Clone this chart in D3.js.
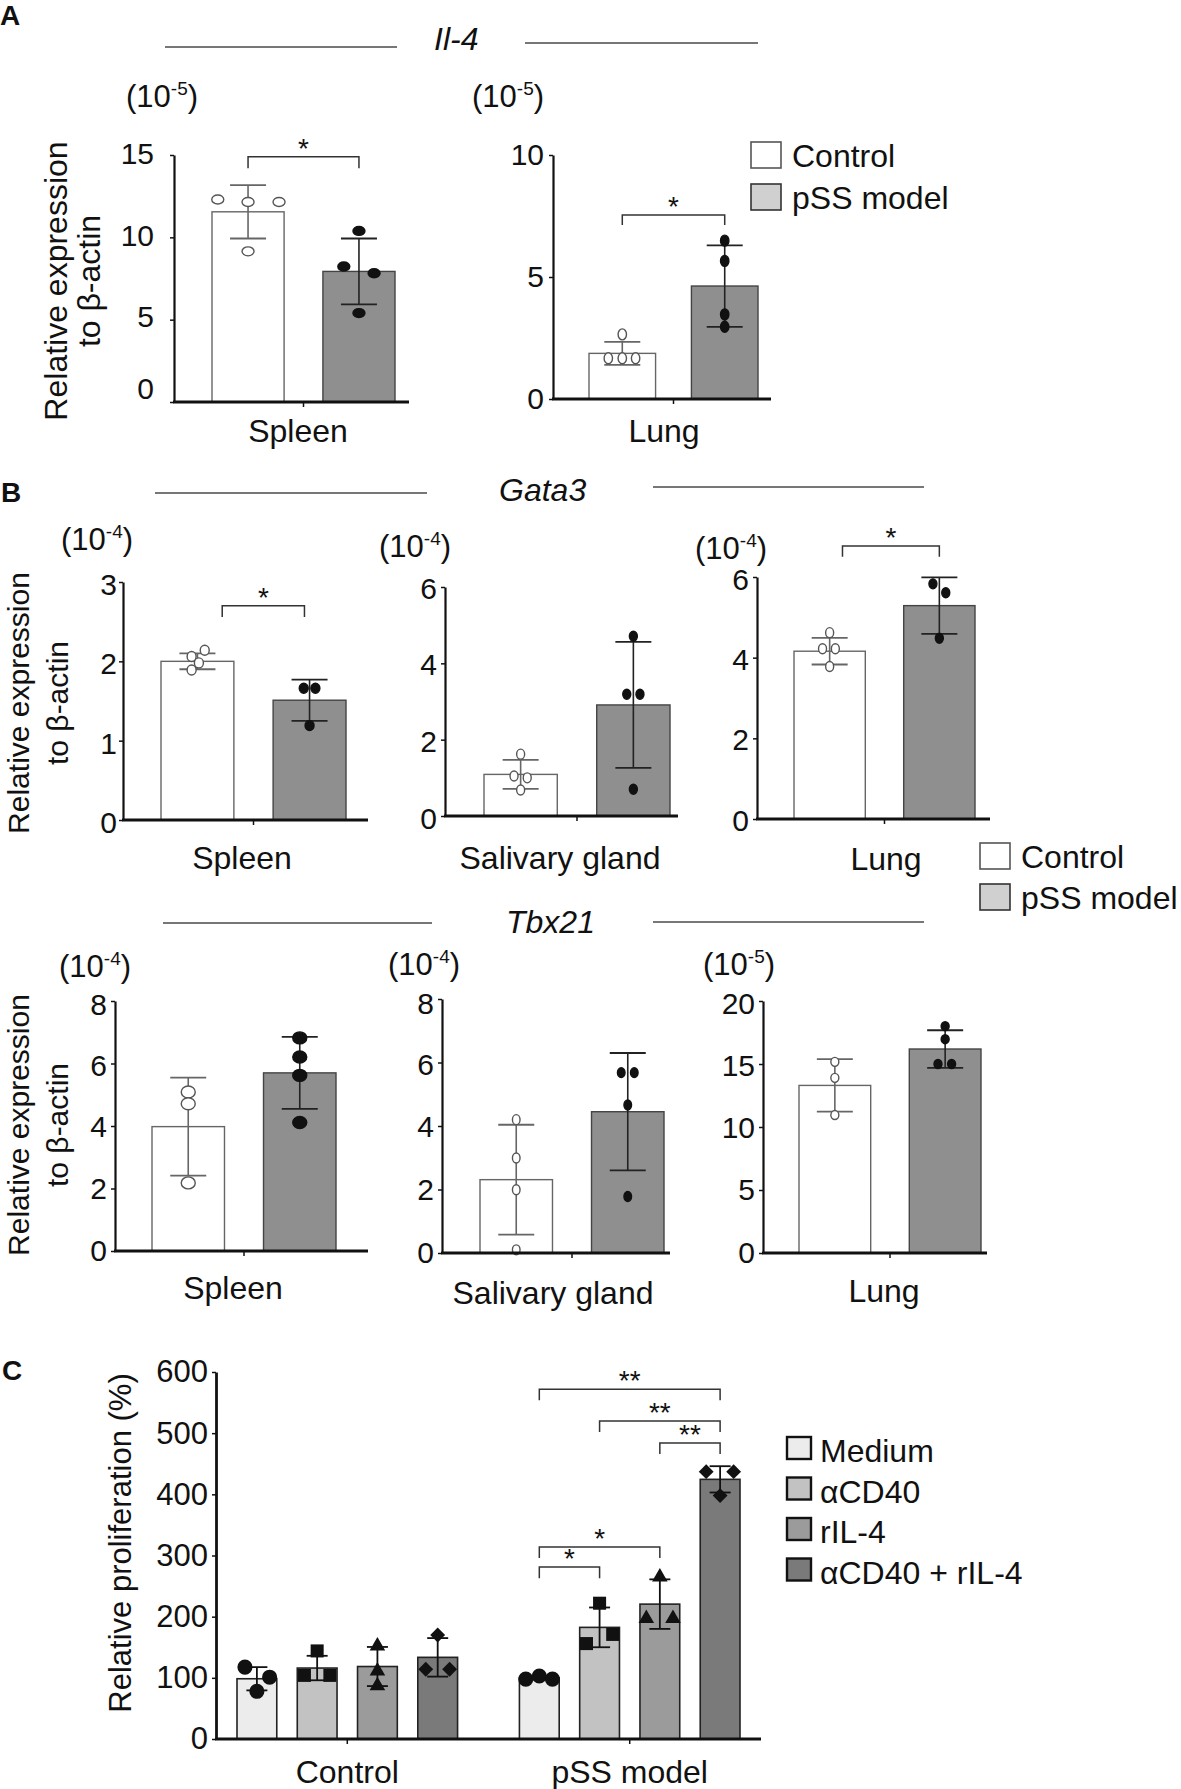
<!DOCTYPE html>
<html>
<head>
<meta charset="utf-8">
<script src="https://cdn.jsdelivr.net/npm/d3@7"></script>
<style>
  body { margin: 0; background: #fff; }
  svg text { font-family: "Liberation Sans", Arial, Helvetica, sans-serif; fill: #111; }
</style>
</head>
<body>
<div id="chart"></div>
<script>
// ---- data ----
const exprGroups = ['Control', 'pSS model'];

// A: Il-4
const il4SpleenMean = [11.55, 7.93];
const il4SpleenSD = [1.62, 2.0];
const il4SpleenPts = [[12.3, 12.15, 12.15, 9.15], [10.39, 8.23, 7.82, 5.4]];
const il4LungMean = [1.87, 4.63];
const il4LungSD = [0.47, 1.67];
const il4LungPts = [[2.65, 1.67, 1.67, 1.67], [6.49, 5.66, 3.47, 2.96]];

// B: Gata3
const gata3SpleenMean = [2.0, 1.51];
const gata3SpleenSD = [0.1, 0.26];
const gata3SpleenPts = [[2.14, 2.06, 1.98, 1.89], [1.66, 1.66, 1.19]];
const gata3SalivMean = [1.09, 2.91];
const gata3SalivSD = [0.38, 1.65];
const gata3SalivPts = [[1.62, 1.05, 1.0, 0.68], [4.71, 3.19, 3.19, 0.70]];
const gata3LungMean = [4.16, 5.29];
const gata3LungSD = [0.33, 0.70];
const gata3LungPts = [[4.62, 4.22, 4.22, 3.78], [5.83, 5.61, 4.48]];

// B: Tbx21
const tbx21SpleenMean = [3.98, 5.70];
const tbx21SpleenSD = [1.57, 1.15];
const tbx21SpleenPts = [[5.09, 4.71, 2.18], [6.82, 6.21, 5.62, 4.11]];
const tbx21SalivMean = [2.31, 4.45];
const tbx21SalivSD = [1.73, 1.85];
const tbx21SalivPts = [[4.2, 2.99, 1.99, 0.1], [5.68, 5.68, 4.66, 1.78]];
const tbx21LungMean = [13.3, 16.19];
const tbx21LungSD = [2.08, 1.49];
const tbx21LungPts = [[15.17, 13.9, 10.95], [18.0, 16.97, 15.0, 15.0]];

// C: proliferation
const prolifGroups = ['Control', 'pSS model'];
const treatments = ['Medium', 'αCD40', 'rIL-4', 'αCD40 + rIL-4'];
const prolifMean = [[98.5, 116, 118.5, 133.5], [100, 182.5, 220.5, 424.5]];
const prolifSD = [[19, 20, 32, 31.5], [3, 32.5, 40.5, 21.5]];
const prolifPts = [
  [[117.6, 101, 78], [144, 104, 104], [152, 111, 87], [170, 114, 114]],
  [[98, 103, 98], [222, 171, 156], [265, 197, 197], [437, 437, 398]]
];
// [from, to, bracket level, stars]
const prolifBrackets = [
  [0, 3, 572, '**'], [1, 3, 520, '**'], [2, 3, 484, '**'],
  [0, 2, 314, '*'], [0, 1, 281, '*']
];

// ---- layout ----
const W = 1181, H = 1789;
const svg = d3.select('#chart').append('svg')
  .attr('width', W).attr('height', H)
  .attr('viewBox', `0 0 ${W} ${H}`);

// jit: dot spread inside a bar, as fraction of bar width
// shift: vertical nudge of each tick label (same order as ticks)
const exprPanels = [
  { mean: il4SpleenMean, sd: il4SpleenSD, pts: il4SpleenPts,
    jit: [[-0.42, 0, 0.43, 0], [0, -0.21, 0.21, 0]],
    axisX: 174, axisEnd: 409, yTop: 155, yBot: 402, max: 15, ticks: [0, 5, 10, 15],
    barL: 212, barR: 395, tickGap: 16, shift: [-13, -3, -1, -1], exp: '-5', expX: 126, expY: 107,
    label: 'Spleen', labelX: 298, labelY: 442, dot: [6, 4.5],
    bracket: { level: 14.9, end: 14.2, inset: [0, 0] } },
  { mean: il4LungMean, sd: il4LungSD, pts: il4LungPts,
    jit: [[0, -0.21, 0, 0.2], [0, 0, 0, 0]],
    axisX: 553, axisEnd: 771, yTop: 155, yBot: 399, max: 10, ticks: [0, 5, 10],
    barL: 589, barR: 758, tickGap: 5, exp: '-5', expX: 472, expY: 107,
    label: 'Lung', labelX: 664, labelY: 442, dot: [4.2, 5.5],
    bracket: { level: 7.54, end: 7.13, inset: [0, 0] } },
  { mean: gata3SpleenMean, sd: gata3SpleenSD, pts: gata3SpleenPts,
    jit: [[0.1, -0.08, 0.02, -0.08], [-0.08, 0.08, 0]],
    axisX: 123, axisEnd: 368, yTop: 582, yBot: 820, max: 3, ticks: [0, 1, 2, 3],
    barL: 161, barR: 346, tickGap: 2, shift: [3, 3, 3, 3], exp: '-4', expX: 61, expY: 550,
    label: 'Spleen', labelX: 242, labelY: 869, dot: [4.5, 5],
    bracket: { level: 2.70, end: 2.56, inset: [0.34, -0.07] } },
  { mean: gata3SalivMean, sd: gata3SalivSD, pts: gata3SalivPts,
    jit: [[0, -0.09, 0.09, 0], [0, -0.09, 0.09, 0]],
    axisX: 445, axisEnd: 678, yTop: 587, yBot: 816, max: 6, ticks: [0, 2, 4, 6],
    barL: 484, barR: 670, tickGap: 4, shift: [3, 2, 2, 2], exp: '-4', expX: 379, expY: 557,
    label: 'Salivary gland', labelX: 560, labelY: 869, dot: [4, 5] },
  { mean: gata3LungMean, sd: gata3LungSD, pts: gata3LungPts,
    jit: [[0, -0.1, 0.08, 0], [-0.09, 0.09, 0]],
    axisX: 757, axisEnd: 990, yTop: 577, yBot: 819, max: 6, ticks: [0, 2, 4, 6],
    barL: 794, barR: 975, tickGap: 4, shift: [2, 2, 2, 3], exp: '-4', expX: 695, expY: 559,
    label: 'Lung', labelX: 886, labelY: 870, dot: [4, 5],
    bracket: { level: 6.77, end: 6.50, inset: [0.18, 0] } },
  { mean: tbx21SpleenMean, sd: tbx21SpleenSD, pts: tbx21SpleenPts,
    jit: [[0, 0, 0], [0, 0, 0, 0]],
    axisX: 115, axisEnd: 368, yTop: 1001, yBot: 1251, max: 8, ticks: [0, 2, 4, 6, 8],
    barL: 152, barR: 336, tickGap: 4, shift: [0, 0, 1, 2, 4], exp: '-4', expX: 59, expY: 977,
    label: 'Spleen', labelX: 233, labelY: 1299, dot: [7, 6] },
  { mean: tbx21SalivMean, sd: tbx21SalivSD, pts: tbx21SalivPts,
    jit: [[0, 0, 0, 0], [-0.09, 0.09, 0, 0]],
    axisX: 442, axisEnd: 670, yTop: 999, yBot: 1253, max: 8, ticks: [0, 2, 4, 6, 8],
    barL: 480, barR: 664, tickGap: 4, shift: [0, 0, 1, 2, 5], exp: '-4', expX: 388, expY: 975,
    label: 'Salivary gland', labelX: 553, labelY: 1304, dot: [3.8, 5] },
  { mean: tbx21LungMean, sd: tbx21LungSD, pts: tbx21LungPts,
    jit: [[0, 0, 0], [0, 0, -0.1, 0.09]],
    axisX: 763, axisEnd: 987, yTop: 1001, yBot: 1253, max: 20, ticks: [0, 5, 10, 15, 20],
    barL: 799, barR: 981, tickGap: 4, shift: [0, 0, 1, 2, 3], exp: '-5', expX: 703, expY: 975,
    label: 'Lung', labelX: 884, labelY: 1302, dot: [4, 4.5] }
];

function supLabel(g, x, y, exp) {
  const t = g.append('text').attr('x', x).attr('y', y).attr('font-size', 31);
  t.append('tspan').text('(10');
  t.append('tspan').attr('font-size', 19).attr('dy', -12).text(exp);
  t.append('tspan').attr('dy', 12).text(')');
}

function bracket(g, x1, x2, yLine, yEnd, stars, starSize) {
  g.append('path')
    .attr('d', `M${x1},${yEnd}V${yLine}H${x2}V${yEnd}`)
    .attr('fill', 'none').attr('stroke', '#333').attr('stroke-width', 1.5);
  g.append('text')
    .attr('x', (x1 + x2) / 2).attr('y', yLine + 1)
    .attr('text-anchor', 'middle').attr('font-size', starSize)
    .text(stars);
}

function exprPanel(p) {
  const g = svg.append('g');
  const y = d3.scaleLinear().domain([0, p.max]).range([p.yBot, p.yTop]);
  const pi = 0.35;
  const step = (p.barR - p.barL) / (2 - pi);
  const x = d3.scaleBand().domain(exprGroups)
    .range([p.barL - step * pi / 2, p.barR + step * pi / 2])
    .paddingInner(pi).paddingOuter(pi / 2);
  const bw = x.bandwidth();

  // bars
  g.selectAll('rect.bar').data(exprGroups).join('rect')
    .attr('class', 'bar')
    .attr('x', d => x(d))
    .attr('y', (d, i) => y(p.mean[i]))
    .attr('width', bw)
    .attr('height', (d, i) => y(0) - y(p.mean[i]))
    .attr('fill', (d, i) => i ? '#8f8f8f' : '#fff')
    .attr('stroke', (d, i) => i ? '#444' : '#666')
    .attr('stroke-width', 1.4);

  // error bars
  exprGroups.forEach((grp, i) => {
    const cx = x(grp) + bw / 2;
    const col = i ? '#222' : '#666';
    const lo = y(p.mean[i] - p.sd[i]), hi = y(p.mean[i] + p.sd[i]);
    g.append('line').attr('x1', cx).attr('x2', cx).attr('y1', lo).attr('y2', hi)
      .attr('stroke', col).attr('stroke-width', 1.6);
    [lo, hi].forEach(v => g.append('line')
      .attr('x1', cx - 18).attr('x2', cx + 18).attr('y1', v).attr('y2', v)
      .attr('stroke', col).attr('stroke-width', 1.8));
  });

  // points
  exprGroups.forEach((grp, i) => {
    const cx = x(grp) + bw / 2;
    g.selectAll(null).data(p.pts[i]).join('ellipse')
      .attr('cx', (d, j) => cx + p.jit[i][j] * bw)
      .attr('cy', d => y(d))
      .attr('rx', p.dot[0]).attr('ry', p.dot[1])
      .attr('fill', i ? '#111' : '#fff')
      .attr('stroke', i ? '#111' : '#555')
      .attr('stroke-width', 1.4);
  });

  // y axis
  const ax = g.append('g').attr('transform', `translate(${p.axisX},0)`)
    .call(d3.axisLeft(y).tickValues(p.ticks).tickSize(4).tickSizeOuter(0)
      .tickPadding(p.tickGap).tickFormat(d3.format('d')));
  ax.select('.domain').attr('stroke', '#111').attr('stroke-width', 2.2);
  ax.selectAll('.tick line').attr('stroke', '#111').attr('stroke-width', 1.5);
  ax.selectAll('.tick text').attr('font-size', 30).attr('fill', '#111')
    .attr('font-family', '"Liberation Sans", Arial, sans-serif')
    .attr('transform', (d, i) => `translate(0,${p.shift ? p.shift[i] : 0})`);

  // x axis line + centre tick
  g.append('line').attr('x1', p.axisX - 1).attr('x2', p.axisEnd)
    .attr('y1', y(0)).attr('y2', y(0)).attr('stroke', '#111').attr('stroke-width', 2.8);
  const midX = (x(exprGroups[0]) + bw + x(exprGroups[1])) / 2;
  g.append('line').attr('x1', midX).attr('x2', midX)
    .attr('y1', y(0)).attr('y2', y(0) + 5).attr('stroke', '#111').attr('stroke-width', 1.5);

  supLabel(g, p.expX, p.expY, p.exp);
  g.append('text').attr('x', p.labelX).attr('y', p.labelY)
    .attr('text-anchor', 'middle').attr('font-size', 32).text(p.label);

  if (p.bracket) {
    const b = p.bracket;
    const x1 = x(exprGroups[0]) + bw / 2 + b.inset[0] * bw;
    const x2 = x(exprGroups[1]) + bw / 2 + b.inset[1] * bw;
    bracket(g, x1, x2, y(b.level), y(b.end), '*', 28);
  }
}

exprPanels.forEach(exprPanel);

// ---- titles, headers, y labels ----
function panelLetter(t, x, yb) {
  svg.append('text').attr('x', x).attr('y', yb).attr('font-size', 28)
    .attr('font-weight', 'bold').text(t);
}
panelLetter('A', 0, 25);
panelLetter('B', 1, 502);
panelLetter('C', 2, 1380);

function header(name, l1, l2, ly1, ly2, tx, ty) {
  svg.append('line').attr('x1', l1[0]).attr('x2', l1[1]).attr('y1', ly1).attr('y2', ly1)
    .attr('stroke', '#777').attr('stroke-width', 2);
  svg.append('line').attr('x1', l2[0]).attr('x2', l2[1]).attr('y1', ly2).attr('y2', ly2)
    .attr('stroke', '#777').attr('stroke-width', 2);
  svg.append('text').attr('x', tx).attr('y', ty).attr('font-size', 32)
    .attr('font-style', 'italic').text(name);
}
header('Il-4', [165, 397], [525, 758], 47, 43, 434, 50);
header('Gata3', [155, 427], [653, 924], 493, 487, 499, 501);
header('Tbx21', [163, 432], [653, 924], 923, 922, 506, 933);

// baselines of each rotated line
function yTitle(lines, xs, cy, size) {
  lines.forEach((s, i) => {
    svg.append('text')
      .attr('transform', `translate(${xs[i]},${cy}) rotate(-90)`)
      .attr('text-anchor', 'middle').attr('font-size', size).text(s);
  });
}
yTitle(['Relative expression', 'to β-actin'], [67, 100], 281, 32);
yTitle(['Relative expression', 'to β-actin'], [29, 68], 703, 30);
yTitle(['Relative expression', 'to β-actin'], [29, 68], 1125, 30);
yTitle(['Relative proliferation (%)'], [131], 1543, 31);

// ---- legends A / B ----
function exprLegend(x0, yTop, gapY) {
  exprGroups.forEach((name, i) => {
    const yy = yTop + i * gapY;
    svg.append('rect').attr('x', x0).attr('y', yy).attr('width', 30).attr('height', 26)
      .attr('fill', i ? '#d0d0d0' : '#fff').attr('stroke', i ? '#333' : '#555')
      .attr('stroke-width', 1.6);
    svg.append('text').attr('x', x0 + 41).attr('y', yy + 25)
      .attr('font-size', 32).text(name);
  });
}
exprLegend(751, 142, 42);
exprLegend(980, 843, 41);

// ---- C: proliferation ----
(function () {
  const g = svg.append('g');
  const y = d3.scaleLinear().domain([0, 600]).range([1739, 1372]);
  const po = 0.219;
  const gStep = (740 - 237) / (2 - po);
  const outer = d3.scaleBand().domain(prolifGroups)
    .range([237 - gStep * po / 2, 740 + gStep * po / 2])
    .paddingInner(po).paddingOuter(po / 2);
  const inner = d3.scaleBand().domain(treatments)
    .range([0, outer.bandwidth()]).paddingInner(0.34).paddingOuter(0);
  const bw = inner.bandwidth();
  const fills = ['#ececec', '#c2c2c2', '#9b9b9b', '#7a7a7a'];
  const shapes = [d3.symbolCircle, d3.symbolSquare, d3.symbolTriangle, d3.symbolSquare];
  const sizes = [180, 170, 105, 110];
  const jit = [
    [[-0.3, 0.32, 0], [0, -0.32, 0.32], [0, 0, 0], [0, -0.3, 0.3]],
    [[-0.34, 0, 0.33], [0, 0.33, -0.33], [0, -0.34, 0.33], [-0.35, 0.34, 0]]
  ];
  const cxOf = (gi, ti) => outer(prolifGroups[gi]) + inner(treatments[ti]) + bw / 2;

  prolifGroups.forEach((grp, gi) => {
    const gg = g.append('g').attr('transform', `translate(${outer(grp)},0)`);
    gg.selectAll('rect').data(treatments).join('rect')
      .attr('x', d => inner(d))
      .attr('y', (d, ti) => y(prolifMean[gi][ti]))
      .attr('width', bw)
      .attr('height', (d, ti) => y(0) - y(prolifMean[gi][ti]))
      .attr('fill', (d, ti) => fills[ti])
      .attr('stroke', '#222').attr('stroke-width', 1.6);
  });

  prolifGroups.forEach((grp, gi) => {
    treatments.forEach((t, ti) => {
      const cx = cxOf(gi, ti);
      const m = prolifMean[gi][ti], s = prolifSD[gi][ti];
      const lo = y(m - s), hi = y(m + s);
      g.append('line').attr('x1', cx).attr('x2', cx).attr('y1', lo).attr('y2', hi)
        .attr('stroke', '#111').attr('stroke-width', 1.8);
      [lo, hi].forEach(v => g.append('line')
        .attr('x1', cx - 10.5).attr('x2', cx + 10.5).attr('y1', v).attr('y2', v)
        .attr('stroke', '#111').attr('stroke-width', 1.8));
      g.selectAll(null).data(prolifPts[gi][ti]).join('path')
        .attr('d', d3.symbol().type(shapes[ti]).size(sizes[ti]))
        .attr('transform', (d, j) => `translate(${cx + jit[gi][ti][j] * bw},${y(d)})` + (ti === 3 ? ' rotate(45)' : ''))
        .attr('fill', '#111');
    });
  });

  const ax = g.append('g').attr('transform', 'translate(216,0)')
    .call(d3.axisLeft(y).tickValues(d3.range(0, 601, 100)).tickSize(4).tickSizeOuter(0).tickPadding(4));
  ax.select('.domain').attr('stroke', '#111').attr('stroke-width', 2.8);
  ax.selectAll('.tick line').attr('stroke', '#111').attr('stroke-width', 1.5);
  ax.selectAll('.tick text').attr('font-size', 31).attr('fill', '#111')
    .attr('font-family', '"Liberation Sans", Arial, sans-serif');

  g.append('line').attr('x1', 215).attr('x2', 761).attr('y1', y(0)).attr('y2', y(0))
    .attr('stroke', '#111').attr('stroke-width', 3);
  prolifGroups.forEach(grp => {
    const mx = outer(grp) + outer.bandwidth() / 2;
    g.append('line').attr('x1', mx).attr('x2', mx).attr('y1', y(0)).attr('y2', y(0) + 5)
      .attr('stroke', '#111').attr('stroke-width', 1.5);
    g.append('text').attr('x', mx).attr('y', y(0) + 44).attr('text-anchor', 'middle')
      .attr('font-size', 32).text(grp);
  });

  prolifBrackets.forEach(([a, b, lvl, st]) => {
    bracket(g, cxOf(1, a), cxOf(1, b), y(lvl), y(lvl - 18), st, 28);
  });

  // legend
  treatments.forEach((t, ti) => {
    const yy = 1437 + ti * 40.5;
    g.append('rect').attr('x', 787).attr('y', yy).attr('width', 24).attr('height', 22)
      .attr('fill', fills[ti]).attr('stroke', '#111').attr('stroke-width', 2.4);
    g.append('text').attr('x', 820).attr('y', yy + 25).attr('font-size', 32).text(t);
  });
})();
</script>
</body>
</html>
